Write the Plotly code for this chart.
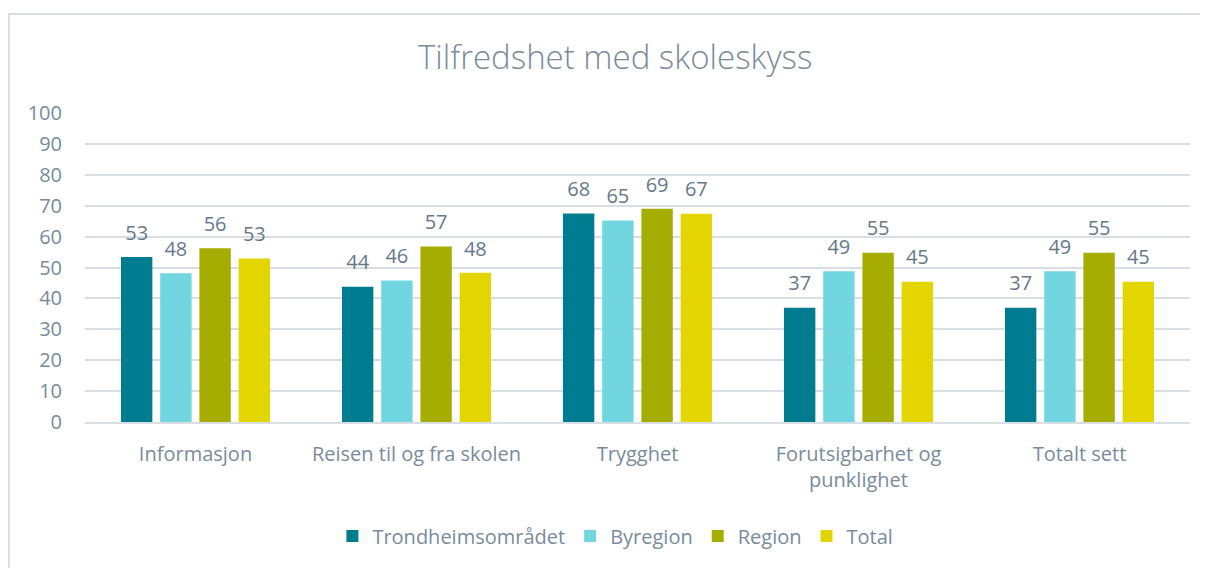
import plotly.graph_objects as go

categories = ["Informasjon", "Reisen til og fra skolen", "Trygghet",
              "Forutsigbarhet og<br>punklighet", "Totalt sett"]
trondheim = [53.4, 43.8, 67.5, 37.0, 37.0]
byregion = [48.1, 45.8, 65.2, 48.8, 48.8]
region = [56.2, 56.8, 69.0, 54.8, 54.8]
total = [52.9, 48.3, 67.4, 45.4, 45.4]

series = [
    ("Trondheimsområdet", trondheim, "#007C91"),
    ("Byregion", byregion, "#72D6E1"),
    ("Region", region, "#A5AD00"),
    ("Total", total, "#E3D600"),
]

txt = "#7A8B9B"
lbl = "#66788A"
font_fam = "Open Sans, Lato, sans-serif"

fig = go.Figure()
for i, (name, vals, col) in enumerate(series):
    fig.add_trace(go.Bar(
        x=categories, y=vals, name=name,
        marker=dict(color=col, line=dict(width=0)),
        offsetgroup=str(i), alignmentgroup="a",
    ))
for i, (name, vals, col) in enumerate(series):
    fig.add_trace(go.Scatter(
        x=categories, y=vals, name=name, showlegend=False,
        mode="markers+text", text=[f"{v:.0f}" for v in vals],
        textposition="top center",
        marker=dict(size=18, opacity=0, color=col),
        textfont=dict(size=20, color=lbl, family=font_fam),
        offsetgroup=str(i), alignmentgroup="a",
        cliponaxis=False, hoverinfo="skip",
    ))

fig.update_layout(
    width=1200, height=560,
    margin=dict(l=77, r=18, t=105, b=146),
    paper_bgcolor="white", plot_bgcolor="white",
    title=dict(text="Tilfredshet med skoleskyss", x=0.506, xanchor="center",
               y=0.911, yanchor="middle",
               font=dict(size=33, color=txt, family=font_fam, weight=300)),
    barmode="group", scattermode="group", bargap=0.29, bargroupgap=0.2,
    font=dict(family=font_fam, color=txt),
    showlegend=True,
    legend=dict(orientation="h", x=0.48, xanchor="center", y=-0.369,
                yanchor="middle", font=dict(size=20, color=txt),
                itemwidth=30, traceorder="normal"),
    xaxis=dict(showline=True, linecolor="#D9DEE3", linewidth=2,
               tickfont=dict(size=20, color=txt), ticks="", ticklen=0,
               ticklabelstandoff=13),
    yaxis=dict(range=[0, 100], dtick=10, showgrid=True, gridcolor="#D9DEE3",
               gridwidth=2, zeroline=False, showline=False,
               tickfont=dict(size=20, color=txt), ticklabelstandoff=22),
    shapes=[dict(type="rect", xref="paper", yref="paper",
                 x0=-0.0688, x1=1.2, y0=-0.6, y1=1.32,
                 line=dict(color="#D9DEE3", width=2), fillcolor="rgba(0,0,0,0)",
                 layer="below")],
)

fig.write_html("out.html")
